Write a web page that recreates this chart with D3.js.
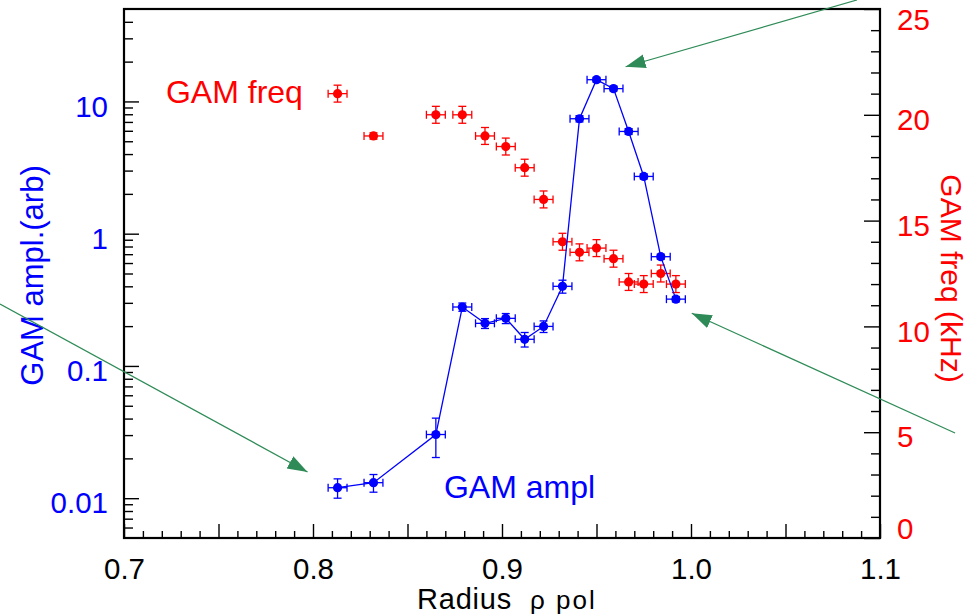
<!DOCTYPE html>
<html>
<head>
<meta charset="utf-8">
<script src="https://cdn.jsdelivr.net/npm/d3@7"></script>
<style>
  body { margin: 0; background: #fff; }
  svg text { font-family: "Liberation Sans", Arial, sans-serif; }
</style>
</head>
<body>
<div id="chart"></div>
<script>
// radial positions (rho pol) shared by both series
var rho    = [0.813, 0.832, 0.865, 0.879, 0.891, 0.902, 0.912, 0.922, 0.932, 0.941, 0.950, 0.959, 0.967, 0.975, 0.984, 0.992];
var rhoErr = 0.005;

// GAM amplitude (arb), log axis on the left
var amp    = [0.012, 0.0131, 0.0303, 0.279, 0.21, 0.229, 0.159, 0.199, 0.40, 7.4, 14.6, 12.5, 5.93, 2.71, 0.67, 0.32];
var ampErr = [0.002, 0.002, 0.01, 0.02, 0.018, 0.02, 0.02, 0.02, 0.045, 0.4, 0.6, 0.5, 0.3, 0.12, 0.03, 0.015];

// GAM frequency (kHz), linear axis on the right
var freq    = [21.0, 19.0, 20.0, 20.0, 19.0, 18.5, 17.5, 16.0, 14.0, 13.5, 13.7, 13.2, 12.1, 12.0, 12.5, 12.0];
var freqErr = [0.4, 0.15, 0.4, 0.4, 0.4, 0.4, 0.4, 0.4, 0.4, 0.4, 0.4, 0.4, 0.4, 0.4, 0.4, 0.4];

// tick values
var xMajor = [0.7, 0.75, 0.8, 0.85, 0.9, 0.95, 1.0, 1.05, 1.1];
var xLabels = [0.7, 0.8, 0.9, 1.0, 1.1];
var ampMajor = [0.01, 0.1, 1, 10];
var freqMajor = [0, 5, 10, 15, 20, 25];

// annotation arrows, in (rho, amp) units: [from, to]
var arrows = [
  [[0.6344, 0.2937], [0.7971, 0.0158]],
  [[1.0878, 58.5],   [0.9654, 18.3]],
  [[1.1397, 0.0311], [1.0004, 0.250]]
];

var W = 970, H = 616;
var margin = {left: 124, right: 90, top: 9, bottom: 78};

var svg = d3.select("#chart").append("svg")
  .attr("width", W).attr("height", H);

var x = d3.scaleLinear().domain([0.7, 1.1]).range([margin.left, W - margin.right]);
var yA = d3.scaleLog().domain([0.005, 50]).range([H - margin.bottom, margin.top]);
var yF = d3.scaleLinear().domain([0, 25]).range([H - margin.bottom, margin.top]);

var x0 = margin.left, x1 = W - margin.right, y0 = H - margin.bottom, y1 = margin.top;

/** axes **/
function styleAxis(g) {
  g.select(".domain").remove();
  g.selectAll(".tick line").attr("stroke", "#000").attr("stroke-width", 1.4);
}

// bottom: minor every 0.01, major every 0.05
var xMinor = d3.range(0, 41).map(function(i){ return +(0.7 + i * 0.01).toFixed(2); })
  .filter(function(v){ return xMajor.indexOf(v) < 0; });
svg.append("g").attr("transform", "translate(0," + y0 + ")")
  .call(d3.axisBottom(x).tickValues(xMinor).tickSize(-7).tickFormat(""))
  .call(styleAxis);
svg.append("g").attr("transform", "translate(0," + y0 + ")")
  .call(d3.axisBottom(x).tickValues(xMajor).tickSize(-14).tickPadding(20)
    .tickFormat(function(d){ return xLabels.some(function(l){ return Math.abs(l - d) < 1e-9; }) ? d3.format(".1f")(d) : ""; }))
  .call(styleAxis)
  .call(function(g){
    g.selectAll("text").attr("fill", "#000").attr("font-size", 29.5)
      .attr("font-family", "Liberation Sans, Arial, sans-serif");
  });

// left: log amplitude
var ampMinor = [];
[0.001, 0.01, 0.1, 1, 10].forEach(function(dec){
  for (var k = 2; k <= 9; k++) {
    var v = +(dec * k).toPrecision(3);
    if (v > 0.005 && v < 50) ampMinor.push(v);
  }
});
svg.append("g").attr("transform", "translate(" + x0 + ",0)")
  .call(d3.axisLeft(yA).tickValues(ampMinor).tickSize(-9).tickFormat(""))
  .call(styleAxis);
svg.append("g").attr("transform", "translate(" + x0 + ",0)")
  .call(d3.axisLeft(yA).tickValues(ampMajor).tickSize(-15).tickPadding(16)
    .tickFormat(function(d){ return d >= 1 ? d3.format("d")(d) : String(d); }))
  .call(styleAxis)
  .call(function(g){
    g.selectAll("text").attr("fill", "#0000ff").attr("font-size", 29.5).attr("dy", "0.5em")
      .attr("font-family", "Liberation Sans, Arial, sans-serif");
  });

// right: linear frequency
var freqMinor = d3.range(1, 25).filter(function(v){ return v % 5 !== 0; });
svg.append("g").attr("transform", "translate(" + x1 + ",0)")
  .call(d3.axisRight(yF).tickValues(freqMinor).tickSize(-9).tickFormat(""))
  .call(styleAxis);
svg.append("g").attr("transform", "translate(" + x1 + ",0)")
  .call(d3.axisRight(yF).tickValues(freqMajor).tickSize(-16).tickPadding(17))
  .call(styleAxis)
  .call(function(g){
    g.selectAll("text").attr("fill", "#ff0000").attr("font-size", 29.5)
      .attr("font-family", "Liberation Sans, Arial, sans-serif")
      .attr("dy", function(d){
        // keep the end labels inside the frame height
        if (d === 0) return "-0.0em";
        if (d === 25) return "0.68em";
        return "0.5em";
      });
  });

// frame
svg.append("rect")
  .attr("x", x0).attr("y", y1)
  .attr("width", x1 - x0).attr("height", y0 - y1)
  .attr("fill", "none").attr("stroke", "#000").attr("stroke-width", 2.2);

/** axis titles **/
svg.append("text")
  .attr("transform", "translate(43," + ((y0 + y1) / 2 + 2) + ") rotate(-90)")
  .attr("text-anchor", "middle").attr("font-size", 31).attr("fill", "#0000ff")
  .text("GAM ampl.(arb)");

svg.append("text")
  .attr("transform", "translate(941," + ((y0 + y1) / 2 + 5) + ") rotate(90)")
  .attr("text-anchor", "middle").attr("font-size", 30).attr("fill", "#ff0000")
  .text("GAM freq (kHz)");

svg.append("text").attr("x", 417).attr("y", 609)
  .attr("font-size", 29).attr("letter-spacing", 0.8).attr("fill", "#000").text("Radius");
svg.append("text").attr("x", 530).attr("y", 609)
  .attr("font-size", 26).attr("fill", "#000").attr("letter-spacing", 2)
  .text("\u03c1 pol");

/** data **/
var pts = rho.map(function(r, i){
  return {r: r, a: amp[i], ae: ampErr[i], f: freq[i], fe: freqErr[i]};
});

function drawErrors(g, data, xv, yv, lo, hi, color) {
  var cap = 4;
  var grp = g.selectAll("g").data(data).enter().append("g")
    .attr("stroke", color).attr("stroke-width", 1.3).attr("fill", "none");
  // horizontal
  grp.append("line")
    .attr("x1", function(d){ return x(xv(d) - rhoErr); })
    .attr("x2", function(d){ return x(xv(d) + rhoErr); })
    .attr("y1", function(d){ return yv(d); }).attr("y2", function(d){ return yv(d); });
  [-1, 1].forEach(function(s){
    grp.append("line")
      .attr("x1", function(d){ return x(xv(d) + s * rhoErr); })
      .attr("x2", function(d){ return x(xv(d) + s * rhoErr); })
      .attr("y1", function(d){ return yv(d) - cap; }).attr("y2", function(d){ return yv(d) + cap; });
  });
  // vertical
  grp.append("line")
    .attr("x1", function(d){ return x(xv(d)); }).attr("x2", function(d){ return x(xv(d)); })
    .attr("y1", lo).attr("y2", hi);
  [lo, hi].forEach(function(fn){
    grp.append("line")
      .attr("x1", function(d){ return x(xv(d)) - cap; })
      .attr("x2", function(d){ return x(xv(d)) + cap; })
      .attr("y1", fn).attr("y2", fn);
  });
}

// frequency points (red)
var gF = svg.append("g");
drawErrors(gF, pts, function(d){ return d.r; }, function(d){ return yF(d.f); },
  function(d){ return yF(d.f - d.fe); }, function(d){ return yF(d.f + d.fe); }, "#ff0000");
gF.selectAll("circle").data(pts).enter().append("circle")
  .attr("cx", function(d){ return x(d.r); }).attr("cy", function(d){ return yF(d.f); })
  .attr("r", 4.6).attr("fill", "#ff0000");

// amplitude points (blue) with connecting line
var gA = svg.append("g");
gA.append("path").datum(pts)
  .attr("fill", "none").attr("stroke", "#0000ff").attr("stroke-width", 1.3)
  .attr("d", d3.line().x(function(d){ return x(d.r); }).y(function(d){ return yA(d.a); }));
drawErrors(gA, pts, function(d){ return d.r; }, function(d){ return yA(d.a); },
  function(d){ return yA(d.a - d.ae); }, function(d){ return yA(d.a + d.ae); }, "#0000ff");
gA.selectAll("circle").data(pts).enter().append("circle")
  .attr("cx", function(d){ return x(d.r); }).attr("cy", function(d){ return yA(d.a); })
  .attr("r", 4.6).attr("fill", "#0000ff");

/** labels **/
svg.append("text").attr("x", x(0.7222)).attr("y", yF(20.57))
  .attr("font-size", 32).attr("fill", "#ff0000").text("GAM freq");
svg.append("text").attr("x", x(0.8693)).attr("y", yA(0.01))
  .attr("font-size", 32).attr("fill", "#0000ff").text("GAM ampl");

/** arrows **/
var green = "#2e8b57";
svg.append("defs").append("marker")
  .attr("id", "head").attr("markerUnits", "userSpaceOnUse")
  .attr("markerWidth", 22).attr("markerHeight", 16)
  .attr("refX", 20).attr("refY", 7).attr("orient", "auto")
  .append("path").attr("d", "M0,0L20,7L0,14Z").attr("fill", green);

svg.selectAll(".arrow").data(arrows).enter().append("line")
  .attr("class", "arrow")
  .attr("x1", function(d){ return x(d[0][0]); }).attr("y1", function(d){ return yA(d[0][1]); })
  .attr("x2", function(d){ return x(d[1][0]); }).attr("y2", function(d){ return yA(d[1][1]); })
  .attr("stroke", green).attr("stroke-width", 1.2)
  .attr("marker-end", "url(#head)");
</script>
</body>
</html>
